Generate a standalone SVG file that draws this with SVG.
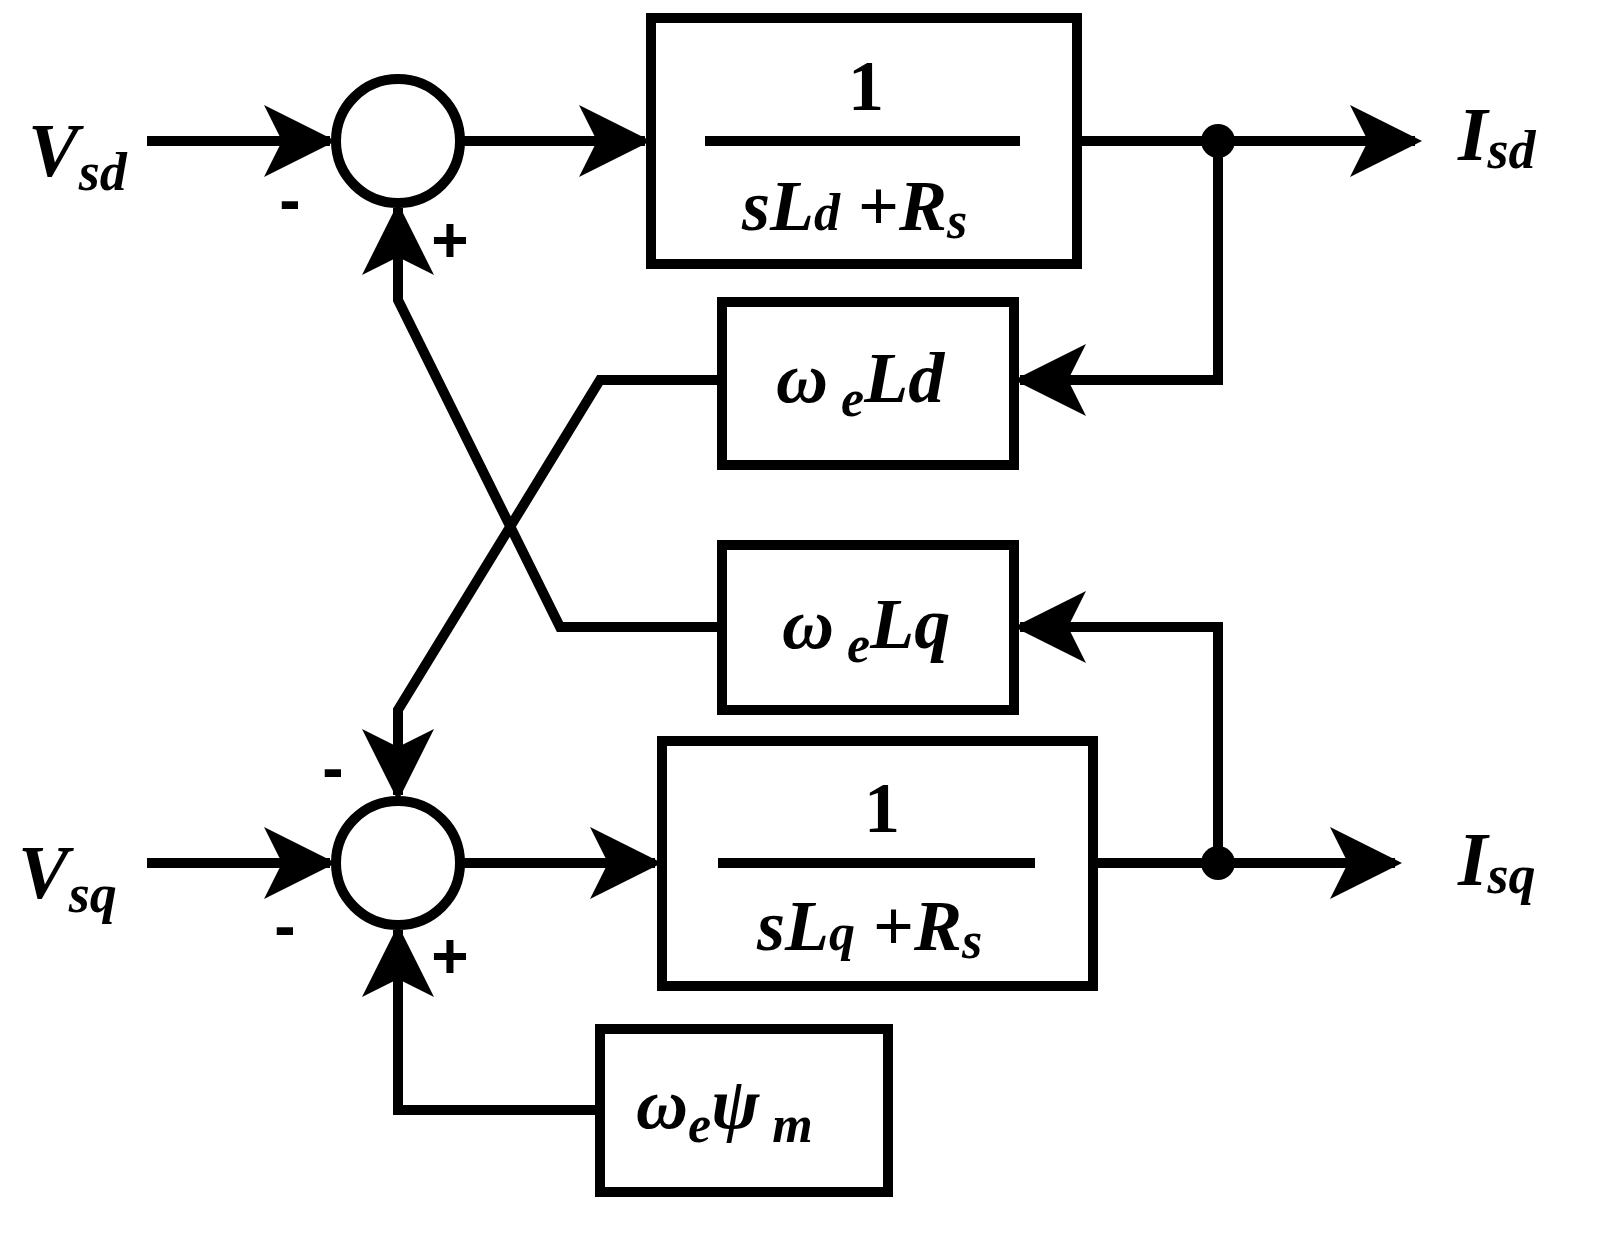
<svg xmlns="http://www.w3.org/2000/svg" width="1606" height="1237" viewBox="0 0 1606 1237">
<style>
.l{fill:none;stroke:#000;stroke-width:10;stroke-linejoin:miter}
.b{fill:#fff;stroke:#000;stroke-width:10}
.t{font-family:"Liberation Serif",serif;font-weight:bold;font-style:italic;fill:#000}
.n{font-family:"Liberation Serif",serif;font-weight:bold;fill:#000}
.s{font-family:"Liberation Sans",sans-serif;font-weight:bold;fill:#000}
</style>
<defs><path id="a" d="M0,0 L-72,-36 L-54,0 L-72,36 Z" fill="#000"/></defs>
<rect width="1606" height="1237" fill="#fff"/>
<g id="connectors">
<path class="l" d="M147,141 H330 M460,141 H645 M1077,141 H1415 M1218,141 V380 H1020 M722,380 H600 L398,710 V795 M722,627 H560 L398,300 V208 M147,863 H330 M460,863 H655 M1093,863 H1395 M1218,863 V627 H1020 M600,1110 H398 V930"/>
<use href="#a" transform="translate(336,141)"/>
<use href="#a" transform="translate(651,141)"/>
<use href="#a" transform="translate(1422,141)"/>
<use href="#a" transform="translate(1014,380) rotate(180)"/>
<use href="#a" transform="translate(398,801) rotate(90)"/>
<use href="#a" transform="translate(398,203) rotate(-90)"/>
<use href="#a" transform="translate(336,863)"/>
<use href="#a" transform="translate(662,863)"/>
<use href="#a" transform="translate(1402,863)"/>
<use href="#a" transform="translate(1014,627) rotate(180)"/>
<use href="#a" transform="translate(398,925) rotate(-90)"/>
<circle cx="1218" cy="141" r="17"/>
<circle cx="1218" cy="863" r="17"/>
</g>
<g id="sum1"><circle class="b" cx="398" cy="141" r="62"/></g>
<g id="sum2"><circle class="b" cx="398" cy="863" r="62"/></g>
<g id="box1"><rect class="b" x="651" y="18" width="426" height="246"/>
<text class="n" x="866" y="110" font-size="72" text-anchor="middle">1</text>
<line class="l" x1="705" y1="141" x2="1020" y2="141"/>
<text class="t" x="742" y="230" font-size="72">sL<tspan font-size="52">d</tspan><tspan font-style="normal"> +</tspan>R<tspan font-size="52" dy="8">s</tspan></text></g>
<g id="box2"><rect class="b" x="662" y="741" width="431" height="245"/>
<text class="n" x="882" y="832" font-size="72" text-anchor="middle">1</text>
<line class="l" x1="718" y1="863" x2="1035" y2="863"/>
<text class="t" x="757" y="950" font-size="72">sL<tspan font-size="52">q</tspan><tspan font-style="normal"> +</tspan>R<tspan font-size="52" dy="8">s</tspan></text></g>
<g id="wLd"><rect class="b" x="722" y="302" width="292" height="163"/>
<text class="t" x="776" y="402" font-size="72">ω<tspan font-size="52" dy="14"> e</tspan><tspan dy="-14">Ld</tspan></text></g>
<g id="wLq"><rect class="b" x="722" y="545" width="292" height="165"/>
<text class="t" x="782" y="648" font-size="72">ω<tspan font-size="52" dy="14"> e</tspan><tspan dy="-14">Lq</tspan></text></g>
<g id="wpsi"><rect class="b" x="600" y="1029" width="288" height="163"/>
<text class="t" x="636" y="1128" font-size="72">ω<tspan font-size="52" dy="14">e</tspan><tspan dy="-14">ψ</tspan><tspan font-size="52" dy="14"> m</tspan></text></g>
<g id="labels">
<text class="t" x="28" y="176" font-size="76">V<tspan font-size="54" dy="14">sd</tspan></text>
<text class="t" x="18" y="898" font-size="76">V<tspan font-size="54" dy="14">sq</tspan></text>
<text class="t" x="1458" y="160" font-size="76">I<tspan font-size="54" dy="8">sd</tspan></text>
<text class="t" x="1458" y="885" font-size="76">I<tspan font-size="54" dy="8">sq</tspan></text>
<text class="s" x="290" y="222" font-size="64" text-anchor="middle">-</text>
<text class="s" x="450" y="262" font-size="64" text-anchor="middle">+</text>
<text class="s" x="333" y="790" font-size="64" text-anchor="middle">-</text>
<text class="s" x="285" y="948" font-size="64" text-anchor="middle">-</text>
<text class="s" x="450" y="978" font-size="64" text-anchor="middle">+</text>
</g>
</svg>
